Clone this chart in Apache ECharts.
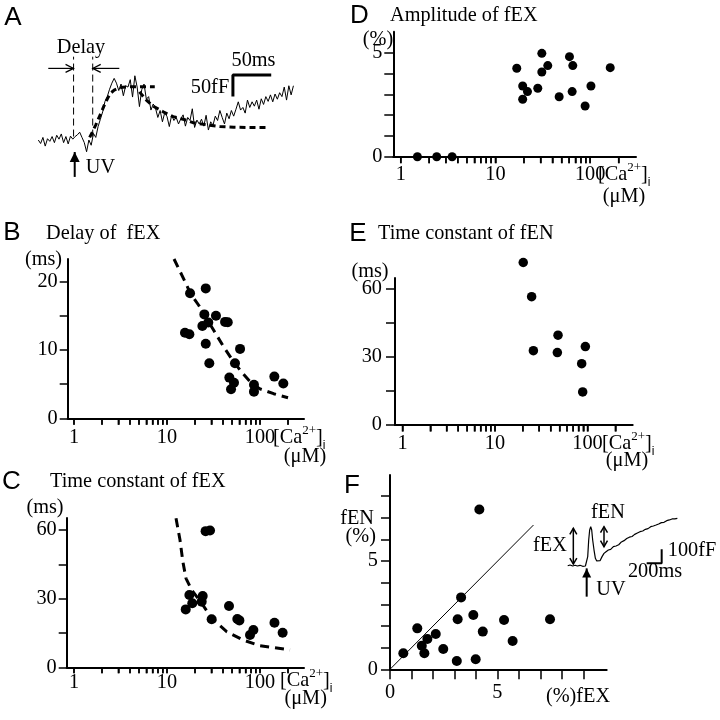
<!DOCTYPE html>
<html><head><meta charset="utf-8">
<script src="https://cdn.jsdelivr.net/npm/echarts@6/dist/echarts.min.js"></script>
<style>html,body{margin:0;padding:0;background:#fff}#c{width:720px;height:720px}</style>
</head><body><div id="c"></div>
<script>
// ================= DATA =================
// Panel A: capacitance trace (fF relative to baseline), sampled every TRACE_A_DT ms
const TRACE_A_DT = 3;
const traceA = [0,-8,6,-14,3,-3,8,-6,11,2,14,-6,8,-9,9,2,8,12,18,6,-6,-27,0,-12,15,6,31,48,65,89,
  100,117,131,142,131,114,129,102,125,122,139,99,148,122,77,116,129,94,100,69,83,73,52,68,42,63,54,31,57,45,
  52,37,49,58,32,52,45,72,29,46,37,48,32,57,23,42,34,55,45,68,52,37,62,49,68,55,71,88,69,75,
  62,92,75,88,78,92,71,95,82,100,89,104,88,106,94,109,100,122,92,125,104,125];
const riseFitT = [67,71,75,79,83,87,91,95,99,104,110,120,135,152];
const riseFitC = [6,20,35,51,67,84,98,109,115,119,121.5,122.5,123,123];
const decayFitT = [132,141,150,163,176,189,202,220,237,255,275,298];
const decayFitC = [111,92,78,65,54,48,40,35,31,29.5,29,29];

// Panel B: delay of fEX (ms) vs [Ca2+]i (uM)
const delayX = [17.7,26.1,25.2,33.6,27.8,24.0,42.1,45.0,15.6,17.4,26.1,28.5,61,53.8,46.8,52.5,48.8,86.1,86.1,142.5,178];
const delayY = [18.3,19.0,15.2,15.0,14.0,13.5,14.1,14.05,12.5,12.3,10.9,8.05,10.15,8.05,5.95,5.2,4.25,4.9,3.9,6.1,5.1];
const delayFitX = [11.9,15.6,18,22,26,32,40,50,63,80,100,140,200];
const delayFitY = [23.3,20.0,18.2,16.5,14.8,12.8,10.6,8.6,6.8,5.2,4.3,3.6,3.0];

// Panel C: time constant of fEX (ms)
const tauExX = [26,29,17.4,15.9,18.7,24.2,23.6,30.2,46.4,57,60,84.8,78,143,175];
const tauExY = [59.5,59.8,31.6,25.3,28.0,31.2,28.7,21.0,26.8,21.1,20.5,16.3,14.1,19.5,15.1];
const tauFitX = [12.5,13.8,14.8,16.0,18.4,23.6,30.2,43.8,66,100,210];
const tauFitY = [65.1,55.6,46.2,38.9,33.8,28.0,21.4,15.6,11.9,9.4,7.6];

// Panel D: amplitude of fEX (%)
const ampX = [16.8,19.4,21.8,19.4,28.0,30.9,30.9,35.7,47.1,60.5,65.6,64.6,88.5,102,163,1.5,2.4,3.49];
const ampY = [4.25,3.40,3.13,2.76,3.29,4.97,4.07,4.38,2.88,4.81,4.38,3.13,2.44,3.40,4.28,0,0,0];

// Panel E: time constant of fEN (ms)
const tauEnX = [20.2,24.9,26.0,48.0,47.2,94.8,86.5,88.7];
const tauEnY = [71.3,56.3,32.6,39.4,31.8,34.4,26.9,14.5];

// Panel F: fEN (%) vs fEX (%)
const fexPct = [0.62,1.27,1.48,1.60,1.74,2.13,2.48,3.11,3.15,3.31,3.88,3.99,4.32,4.16,5.31,5.71,7.45];
const fenPct = [0.74,1.89,1.09,0.74,1.40,1.63,0.94,0.38,2.31,3.32,2.51,0.46,1.74,7.38,2.28,1.31,2.31];
const identityX = [0,6.68];
const identityY = [0,6.66];

// Panel F inset trace (ms, fF)
const insetT = [0,31,67,98,129,164,200,236,253,267,280,293,307,320,333,351,369,387,409,431,458,484,511,542,573,609,644,680,716,751,787,822,858,893,929,964,1000,1036,1071,1107,1142,1178,1213,1249,1284,1320,1356,1391,1427,1462];
const insetC = [2,7,0,5,0,5,-2,0,-5,67,186,257,281,257,186,114,55,36,31,38,67,90,102,114,119,138,143,152,172,181,196,206,211,226,236,245,250,262,267,281,286,293,300,310,312,324,329,336,336,340];

// Tick values
const logTicks = [1,2,3,4,5,6,7,8,9,10,20,30,40,50,60,70,80,90,100,200];
const logLabels = [1,10,100];
const ticksB = [0,5,10,15,20], labelsB = [0,10,20];
const ticks60 = [0,15,30,45,60], labels60 = [0,30,60];
const ticksD = [0,1,2,3,4,5], labelsD = [0,5];
const ticksFx = [0,1,2,3,4,5,6,7,8,9], ticksFy = [0,1,2,3,4,5,6,7,8], labelsF = [0,5];

// Annotations (in each panel's data units)
const delayMarksA = [[46,8,46,192],[71,8,71,192]];
const delayArrowsA = [[13,165,46,165],[105.7,165,71,165]];
const uvArrowA = [[47.5,-85,47.5,-27.6]];
const scaleBarA = [[304,150],[254,150],[254,100]];
const insetDoubleArrows = [[75,14,75,269],[484,138,484,281]];
const insetUv = [[253,-219,253,-17]];
const insetScaleBar = [[1053,19],[1253,19],[1253,119]];

// ================= CHART =================
const SERIF = '"Liberation Serif", "Times New Roman", serif';
const SANS = '"Liberation Sans", Arial, sans-serif';
const FS = 20.3;
const pairs = (xs, ys) => xs.map((x, i) => [x, ys[i]]);

function ax(gi, type, min, max, ticks, labels, tickLen, margin) {
  const a = {
    type, gridIndex: gi, min, max,
    axisLine: {show: true, onZero: false, lineStyle: {color: '#000', width: 2}},
    axisTick: {show: true, inside: false, length: tickLen, customValues: ticks, lineStyle: {color: '#000', width: 1.5}},
    axisLabel: {show: true, customValues: labels, color: '#000', fontFamily: SERIF, fontSize: FS, margin},
    splitLine: {show: false}, minorTick: {show: false}, minorSplitLine: {show: false}
  };
  if (type === 'log') a.logBase = 10;
  return a;
}
function hidden(gi, min, max) { return {type: 'value', gridIndex: gi, min, max, show: false, splitLine:{show:false}}; }

// log-axis tick marks drawn through the axis scale (guarantees minor ticks 2..9)
function logTickSeries(gi, yBase, len) {
  return {
    type: 'custom', xAxisIndex: gi, yAxisIndex: gi, clip: false, silent: true, z: 5,
    encode: {x: 0},
    data: logTicks.map(v => [v]),
    renderItem(params, api) {
      const p = api.coord([api.value(0), yBase]);
      return {type: 'line', shape: {x1: p[0], y1: p[1], x2: p[0], y2: p[1] + len},
        style: {stroke: '#000', lineWidth: 1.5}};
    }
  };
}

function arrowSeries(gi, segs, opt) {
  return {
    type: 'custom', xAxisIndex: gi, yAxisIndex: gi, clip: false, silent: true,
    encode: {x: [0, 2], y: [1, 3]},
    data: segs,
    renderItem(params, api) {
      const p1 = api.coord([api.value(0), api.value(1)]);
      const p2 = api.coord([api.value(2), api.value(3)]);
      const ch = [{type: 'line', shape: {x1: p1[0], y1: p1[1], x2: p2[0], y2: p2[1]},
        style: {stroke: '#000', lineWidth: opt.lw, lineDash: opt.dash || null}}];
      function head(tip, from) {
        const dx = tip[0] - from[0], dy = tip[1] - from[1];
        const L = Math.hypot(dx, dy) || 1, ux = dx / L, uy = dy / L;
        const bx = tip[0] - ux * opt.hl, by = tip[1] - uy * opt.hl;
        const a = [bx - uy * opt.hw, by + ux * opt.hw], b = [bx + uy * opt.hw, by - ux * opt.hw];
        if (opt.filled) ch.push({type: 'polygon', shape: {points: [tip, a, b]}, style: {fill: '#000'}});
        else ch.push({type: 'polyline', shape: {points: [a, tip, b]}, style: {stroke: '#000', lineWidth: opt.lw, fill: null}});
      }
      if (opt.start) head(p1, p2);
      if (opt.end) head(p2, p1);
      return {type: 'group', children: ch};
    }
  };
}
function lineS(gi, data, width, dash) {
  return {type: 'line', xAxisIndex: gi, yAxisIndex: gi, data, showSymbol: false, symbol: 'none', clip: false, silent: true,
    lineStyle: {color: '#000', width, type: dash || 'solid'}, z: 2};
}
function scatterS(gi, data, size) {
  return {type: 'scatter', xAxisIndex: gi, yAxisIndex: gi, data, symbol: 'circle', symbolSize: size, clip: false, silent: true,
    itemStyle: {color: '#000', opacity: 1}, z: 3};
}

function T(text, x, y, size, family, align) {
  return {type: 'text', x, y, silent: true, z: 10,
    style: {text, fill: '#000', font: size + 'px ' + family, align: align || 'center', verticalAlign: 'middle'}};
}
function caLabel(x, y) {
  return {type: 'text', x, y, silent: true, z: 10,
    style: {text: '{n|[Ca}{s|2+}{n|]}{b|i}', align: 'left', verticalAlign: 'middle', fill: '#000',
      rich: {
        n: {fontSize: FS, fontFamily: SERIF, lineHeight: 27, fill: '#000'},
        s: {fontSize: 13, fontFamily: SERIF, lineHeight: 15, verticalAlign: 'top', fill: '#000'},
        b: {fontSize: 12, fontFamily: SANS, lineHeight: 14, verticalAlign: 'bottom', fill: '#000'}
      }}};
}

const grids = [
  {left: 23, top: 53.2, width: 275.8, height: 125.9},
  {left: 67.7, top: 259, width: 236.3, height: 159.3},
  {left: 66.7, top: 518, width: 237.3, height: 149.3},
  {left: 393.3, top: 31.7, width: 242.7, height: 125},
  {left: 395, top: 278, width: 237.7, height: 147},
  {left: 390, top: 475, width: 216.7, height: 194.3},
  {left: 567.7, top: 517, width: 112.5, height: 81.2}
].map(g => Object.assign({containLabel: false, outerBoundsMode: 'none', show: false}, g));

const option = {
  animation: false,
  backgroundColor: '#fff',
  color: ['#000'],
  grid: grids,
  xAxis: [
    hidden(0, -20, 340),
    ax(1, 'log', 0.856, 297, logTicks, logLabels, 6.5, 9),
    ax(2, 'log', 0.835, 297, logTicks, logLabels, 6, 5),
    ax(3, 'log', 0.835, 305, logTicks, logLabels, 6.5, 8),
    ax(4, 'log', 0.83, 308, logTicks, logLabels, 6.5, 9),
    ax(5, 'value', 0, 10.09, ticksFx, labelsF, 10, 13),
    hidden(6, 0, 1500)
  ],
  yAxis: [
    hidden(0, -90, 200),
    ax(1, 'value', 0, 23.3, ticksB, labelsB, 8, 10),
    ax(2, 'value', 0, 65.25, ticks60, labels60, 8, 10),
    ax(3, 'value', 0, 6.01, ticksD, labelsD, 9, 11),
    ax(4, 'value', 0, 64.5, ticks60, labels60, 9, 13),
    ax(5, 'value', 0, 8.97, ticksFy, labelsF, 9, 12),
    hidden(6, -230, 350)
  ],
  series: [
    // A
    lineS(0, traceA.map((c, i) => [i * TRACE_A_DT, c]), 1),
    lineS(0, pairs(riseFitT, riseFitC), 3, [6, 4]),
    lineS(0, pairs(decayFitT, decayFitC), 3, [6, 4]),
    lineS(0, scaleBarA, 3),
    arrowSeries(0, delayMarksA, {lw: 1, dash: [7, 4]}),
    arrowSeries(0, delayArrowsA, {lw: 1.2, end: true, hl: 8, hw: 4}),
    arrowSeries(0, uvArrowA, {lw: 2, end: true, filled: true, hl: 10, hw: 5}),
    // B
    lineS(1, pairs(delayFitX, delayFitY), 3, [9, 6]),
    scatterS(1, pairs(delayX, delayY), 10),
    logTickSeries(1, 0, 6.5),
    // C
    lineS(2, pairs(tauFitX, tauFitY), 3, [9, 6]),
    scatterS(2, pairs(tauExX, tauExY), 10),
    logTickSeries(2, 0, 6),
    // D
    scatterS(3, pairs(ampX, ampY), 9),
    logTickSeries(3, 0, 6.5),
    // E
    scatterS(4, pairs(tauEnX, tauEnY), 9.5),
    logTickSeries(4, 0, 6.5),
    // F
    lineS(5, pairs(identityX, identityY), 1),
    scatterS(5, pairs(fexPct, fenPct), 10),
    // F inset
    lineS(6, pairs(insetT, insetC), 1.2),
    lineS(6, insetScaleBar, 2),
    arrowSeries(6, insetDoubleArrows, {lw: 1.5, start: true, end: true, hl: 6, hw: 3.5}),
    arrowSeries(6, insetUv, {lw: 2, end: true, filled: true, hl: 9, hw: 4.5})
  ],
  graphic: [
    T('A', 13, 17.5, 26, SANS), T('B', 12, 233, 26, SANS), T('C', 11.5, 482, 26, SANS),
    T('D', 359.5, 16, 26, SANS), T('E', 358, 234, 26, SANS), T('F', 352, 486, 26, SANS),
    T('Delay of  fEX', 46, 234, FS, SERIF, 'left'),
    T('Time constant of fEX', 50, 482, FS, SERIF, 'left'),
    T('Amplitude of fEX', 390, 16, FS, SERIF, 'left'),
    T('Time constant of fEN', 378, 234, FS, SERIF, 'left'),
    T('(ms)', 43.5, 260, FS, SERIF), T('(ms)', 45, 508, FS, SERIF), T('(ms)', 370, 272, FS, SERIF),
    T('(%)', 378, 40, FS, SERIF),
    T('fEN', 374, 519, FS, SERIF, 'right'), T('(%)', 376, 537, FS, SERIF, 'right'),
    T('(%)fEX', 578, 697, FS, SERIF),
    caLabel(273, 438), T('(\u03bcM)', 305, 457, FS, SERIF),
    caLabel(280, 681), T('(\u03bcM)', 305.7, 699, FS, SERIF),
    caLabel(598, 175), T('(\u03bcM)', 624, 197, FS, SERIF),
    caLabel(602, 444), T('(\u03bcM)', 627, 461, FS, SERIF),
    T('Delay', 81, 48, FS, SERIF), T('50ms', 253.5, 61, FS, SERIF), T('50fF', 210, 87.5, FS, SERIF),
    T('UV', 100.5, 167.5, FS, SERIF),
    T('fEX', 550, 546, FS, SERIF), T('fEN', 608, 513, FS, SERIF), T('100fF', 692, 551, FS, SERIF),
    T('200ms', 655, 572, FS, SERIF), T('UV', 611, 590, FS, SERIF)
  ]
};
const chart = echarts.init(document.getElementById('c'), null, {renderer: 'canvas', width: 720, height: 720});
chart.setOption(option);
</script>
</body></html>
